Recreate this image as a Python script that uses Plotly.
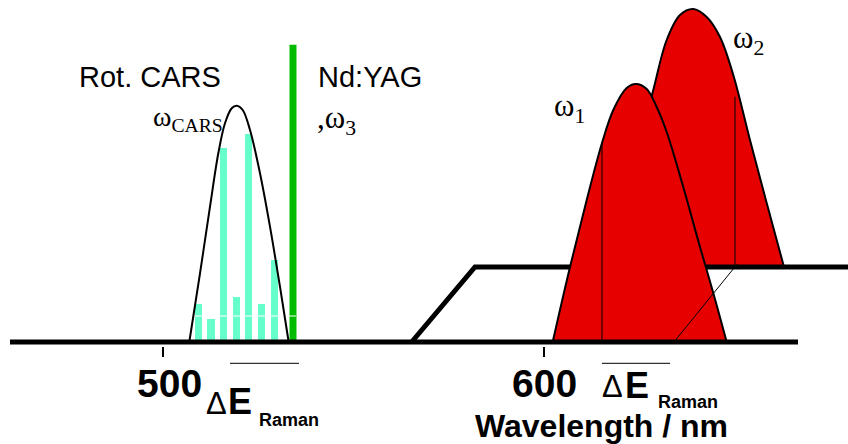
import plotly.graph_objects as go

# ---------------- data (wavelength in nm, intensity in arbitrary units) ----------------
tick_vals = [500, 600]
tick_text = ["500", "600"]

# rotational CARS envelope
cars_env_x = [506.92, 509.73, 512.35, 514.53, 516.28, 518.04, 519.35, 520.92, 522.84, 525.46, 528.08, 530.70, 532.98]
cars_env_y = [0, 68.7, 135.3, 188.7, 218.7, 233.7, 236.3, 232, 212, 168.7, 115.3, 55.3, 0]

# rotational CARS lines
rot_lines_x = [509.28, 512.61, 515.94, 519.22, 522.52, 525.90, 529.21]
rot_lines_y = [38, 23, 194, 45, 208, 38, 82]
rot_level_y = 26
rot_level_x = [508.34, 534.9]

# Nd:YAG line
ndyag_x = [534.11, 534.11]
ndyag_y = [0, 297.3]

# omega_1 dye laser profile (front plane)
w1_x = [602.20, 606.74, 611.12, 615.13, 618.09, 621.60, 624.04, 626.85, 629.47, 632.09, 636.44, 640.82, 644.31, 647.82]
w1_y = [0, 75, 142, 199, 232, 254, 258, 253, 235, 210, 155, 95, 49, 0]
w1_mark_x = [615.13, 615.13]
w1_mark_y = [0, 199]

# omega_2 dye laser profile (back plane)
w2_x = [617.23, 621.76, 626.14, 628.58, 632.09, 635.58, 639.07, 642.58, 646.07, 649.55, 653.93, 658.31, 662.85]
w2_y = [75, 150, 217, 252, 302, 327, 333, 325, 305, 267, 202, 139, 75]
w2_mark_x = [650.0, 650.0]
w2_mark_y = [75, 245.3]

# projection of omega_2 mark onto the front plane
proj_x = [634.0, 650.6]
proj_y = [0, 78]

# planes
front_x = [459.91, 666.52]
front_y = [0, 0]
back_x = [565.23, 581.83, 680.0]
back_y = [0, 75, 75]

# ---------------- figure ----------------
W, H = 848, 444
PLOT_H = 346
X_RANGE = [457.29, 679.63]
Y_RANGE = [-4, 342]

RED = "rgb(230,0,0)"
CYAN = "rgb(102,255,204)"
GREEN = "rgb(0,187,0)"

fig = go.Figure()

# omega_2 (behind)
fig.add_trace(go.Scatter(x=w2_x, y=w2_y, mode="lines", fill="toself", fillcolor=RED,
                         line=dict(color="black", width=2, shape="spline", smoothing=1)))
fig.add_trace(go.Scatter(x=w2_mark_x, y=w2_mark_y, mode="lines", line=dict(color="black", width=1)))
# back plane
fig.add_trace(go.Scatter(x=back_x, y=back_y, mode="lines", line=dict(color="black", width=5)))
# omega_1 (front)
fig.add_trace(go.Scatter(x=w1_x, y=w1_y, mode="lines", fill="toself", fillcolor=RED,
                         line=dict(color="black", width=2, shape="spline", smoothing=1)))
fig.add_trace(go.Scatter(x=w1_mark_x, y=w1_mark_y, mode="lines", line=dict(color="black", width=1)))
fig.add_trace(go.Scatter(x=proj_x, y=proj_y, mode="lines", line=dict(color="black", width=1)))

# rotational CARS lines
fig.add_trace(go.Bar(x=rot_lines_x, y=rot_lines_y, width=1.91, marker=dict(color=CYAN, line=dict(width=0))))
# Nd:YAG
fig.add_trace(go.Scatter(x=ndyag_x, y=ndyag_y, mode="lines", line=dict(color=GREEN, width=7)))
# white level line
fig.add_trace(go.Scatter(x=rot_level_x, y=[rot_level_y, rot_level_y], mode="lines",
                         line=dict(color="white", width=1)))
# envelope
fig.add_trace(go.Scatter(x=cars_env_x, y=cars_env_y, mode="lines",
                         line=dict(color="black", width=2, shape="spline", smoothing=1)))
# front baseline
fig.add_trace(go.Scatter(x=front_x, y=front_y, mode="lines", line=dict(color="black", width=5)))


def px(x):
    return x / W


def py(y):
    return (PLOT_H - y) / PLOT_H


SANS = "Liberation Sans, Arial, sans-serif"
SERIF = "Liberation Serif, Times New Roman, serif"

ann = []


def text(t, x, y, size, family=SANS, anchor="left"):
    ann.append(dict(text=t, x=px(x), y=py(y), xref="paper", yref="paper",
                    xanchor=anchor, yanchor="top", showarrow=False,
                    font=dict(family=family, size=size, color="black")))


text("Rot. CARS", 77.4, 59.0, 29)
text("Nd:YAG", 316.0, 59.0, 29)
text("ω<sub>CARS</sub>", 151.0, 99.0, 28, SERIF)
text(",ω<sub>3</sub>", 315.0, 98.0, 31, SERIF)
text("ω<sub>1</sub>", 552.0, 86.4, 31, SERIF)
text("ω<sub>2</sub>", 730.5, 18.0, 31, SERIF)

text("<b>500</b>", 169.2, 359.9, 39, anchor="center")
text("<b>600</b>", 544.2, 359.9, 39, anchor="center")

# Delta E Raman (left)
text("Δ", 204.0, 383.8, 31)
text("<b>E</b>", 226.4, 378.9, 36)
text("<b>Raman</b>", 256.5, 408.0, 18)
# Delta E Raman (right)
text("Δ", 600.0, 367.0, 31)
text("<b>E</b>", 623.4, 362.5, 36)
text("<b>Raman</b>", 655.5, 390.0, 18)

text("<b>Wavelength / nm</b>", 472.7, 406.2, 32)

shapes = [
    dict(type="line", xref="paper", yref="paper", x0=px(230), x1=px(299), y0=py(363.3), y1=py(363.3),
         line=dict(color="black", width=1)),
    dict(type="line", xref="paper", yref="paper", x0=px(602), x1=px(670), y0=py(363.3), y1=py(363.3),
         line=dict(color="black", width=1)),
]

fig.update_layout(
    width=W, height=H,
    margin=dict(l=0, r=0, t=0, b=H - PLOT_H, pad=0),
    paper_bgcolor="white", plot_bgcolor="white",
    showlegend=False, bargap=0,
    annotations=ann, shapes=shapes,
    xaxis=dict(range=X_RANGE, showgrid=False, zeroline=False, showline=False,
               tickvals=tick_vals, ticktext=tick_text, showticklabels=False,
               ticks="outside", ticklen=10, tickwidth=1.5, tickcolor="black", fixedrange=True),
    yaxis=dict(range=Y_RANGE, visible=False, fixedrange=True),
)

fig.write_html("out.html", config={"displayModeBar": False},
               post_script="document.body.style.margin='0';")
